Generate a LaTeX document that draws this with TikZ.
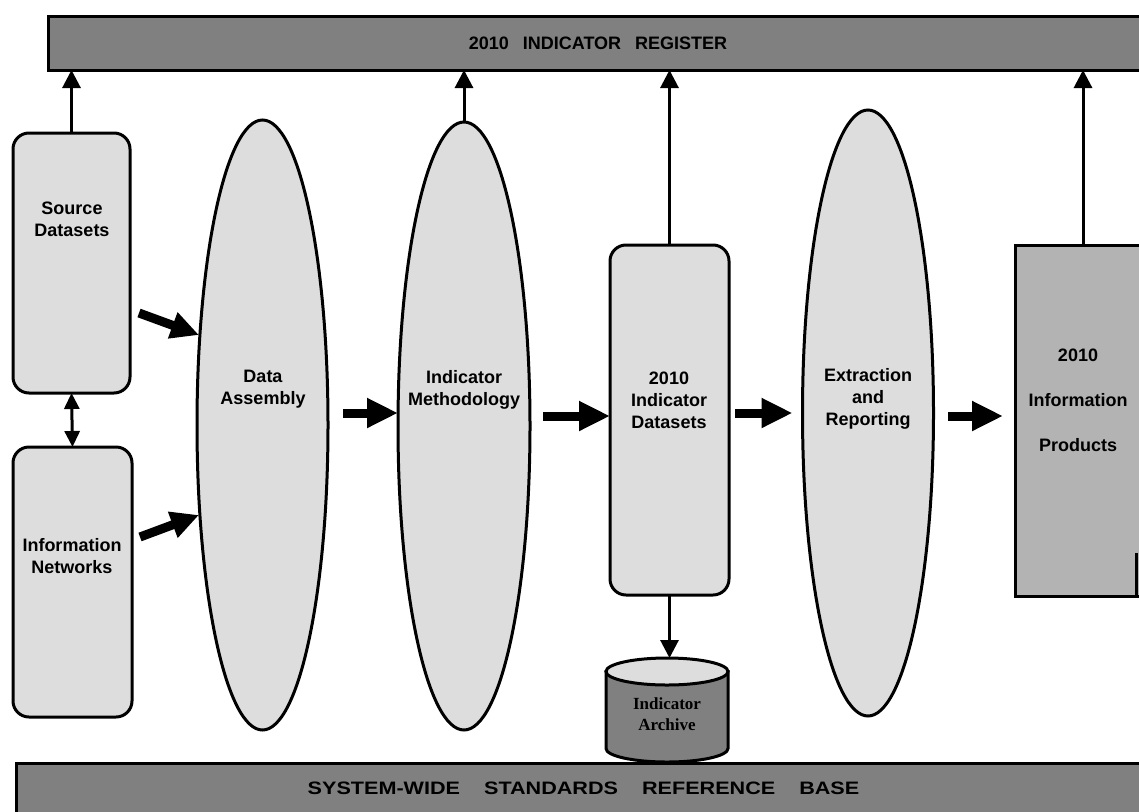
\documentclass[tikz,border=0pt]{standalone}
\usepackage{fontspec}
\setmainfont{Liberation Sans}
\newfontfamily\archfont{Liberation Serif}
\usepackage{graphicx}
\usetikzlibrary{shapes.geometric,arrows.meta,calc}
\definecolor{lightfill}{HTML}{DDDDDD}
\definecolor{barfill}{HTML}{808080}
\definecolor{prodfill}{HTML}{B3B3B3}
\begin{document}
\begin{tikzpicture}[x=1pt,y=-1pt,
 every node/.style={font=\bfseries\fontsize{18}{22}\selectfont, align=center, inner sep=0pt, outer sep=0pt},
 outline/.style={draw=black, line width=3pt},
 roundbox/.style={outline, fill=lightfill, rounded corners=16pt},
 oval/.style={outline, fill=lightfill, ellipse},
 bar/.style={outline, fill=barfill},
 thinarrow/.style={line width=3pt, -{Triangle[length=18pt,width=18pt]}},
 twoway/.style={line width=3pt, {Triangle[length=16pt,width=15pt]}-{Triangle[length=16pt,width=15pt]}},
 bigarrow/.style={line width=9pt, -{Triangle[length=31pt,width=28pt]}},
 slantarrow/.style={line width=9pt, -{Triangle[length=28pt,width=26pt]}}]
\useasboundingbox (0,0) rectangle (1139,811);
\fill[white] (0,0) rectangle (1139,811);

% bars
\node[bar, minimum width=1100pt, minimum height=54pt, anchor=north west] (reg) at (48,16)
  {2010\hspace{14pt}INDICATOR\hspace{14pt}REGISTER};
\node[bar, minimum width=1135pt, minimum height=52pt, anchor=north west] (base) at (16,763)
  {\raisebox{2pt}{\scalebox{1.2}[1]{SYSTEM-WIDE\hspace{20pt}STANDARDS\hspace{20pt}REFERENCE\hspace{20pt}BASE}}};

% boxes
\node[roundbox, minimum width=117pt, minimum height=260pt, anchor=north west] (src) at (13,133) {};
\node[roundbox, minimum width=119pt, minimum height=270pt, anchor=north west] (net) at (13,447) {};
\node[roundbox, minimum width=119pt, minimum height=350pt, anchor=north west] (ds) at (610,245) {};
\node[outline, fill=prodfill, minimum width=140pt, minimum height=351pt, anchor=north west] (prod) at (1015,245) {};
\draw[line width=3pt] (1136,553) -- (1136,596);

% ellipses
\node[oval, minimum width=131pt, minimum height=610pt] (da) at (262.5,425) {};
\node[oval, minimum width=132pt, minimum height=608pt] (meth) at (464,426) {};
\node[oval, minimum width=131pt, minimum height=606pt] (er) at (868,413) {};

% archive (cylinder)
\node[minimum width=122pt, minimum height=104pt] (arch) at (667,710) {};
\filldraw[outline, fill=barfill] (arch.west |- 0,671.5) -- (arch.west |- 0,748.5)
  arc[start angle=180, end angle=0, x radius=61, y radius=13.5] -- (arch.east |- 0,671.5) -- cycle;
\filldraw[outline, fill=lightfill] (arch.center |- 0,671.5) ellipse[x radius=61, y radius=13.5];
\node[font=\archfont\bfseries\fontsize{17}{21}\selectfont] (archtxt) at (667,714) {Indicator\\Archive};

% labels
\node (srctxt) at (72,219) {Source\\Datasets};
\node (nettxt) at (72,556) {Information\\Networks};
\node (datxt) at (263,389) {Data\\Assembly};
\node (methtxt) at (464,390) {Indicator\\Methodology};
\node (dstxt) at (669,400) {2010\\Indicator\\Datasets};
\node (ertxt) at (868,399) {Extraction\\and\\Reporting};
\node (prodtxt) at (1078,400) {2010\\[23pt]Information\\[23pt]Products};

% vertical arrows to register
\draw[thinarrow] (src.north) -- (src.north |- reg.south);
\draw[thinarrow] (meth.north) -- (meth.north |- reg.south);
\draw[thinarrow] (ds.north) -- (ds.north |- reg.south);
\coordinate (prodtop) at (1083,245);
\draw[thinarrow] (prodtop) -- (prodtop |- reg.south);
\draw[thinarrow] (ds.south) -- (ds.south |- 0,658);
\draw[twoway] (src.south) -- (net.north);

% horizontal arrows
\coordinate (h1) at (343,413);
\draw[bigarrow] (h1) -- (h1 -| meth.west);
\coordinate (h2) at (543,416);
\draw[bigarrow] (h2) -- (h2 -| ds.west);
\coordinate (h3) at (735,413);
\draw[bigarrow] (h3) -- ($(h3 -| er.west)+(-10,0)$);
\coordinate (h4) at (948,416);
\draw[bigarrow] (h4) -- ($(h4 -| prod.west)+(-12,0)$);

% slanted arrows
\coordinate (d1) at (139,313);
\draw[slantarrow] (d1) -- ($(da.west)+(2,-90)$);
\coordinate (d2) at (140,537);
\draw[slantarrow] (d2) -- ($(da.west)+(2,90)$);
\end{tikzpicture}
\end{document}
